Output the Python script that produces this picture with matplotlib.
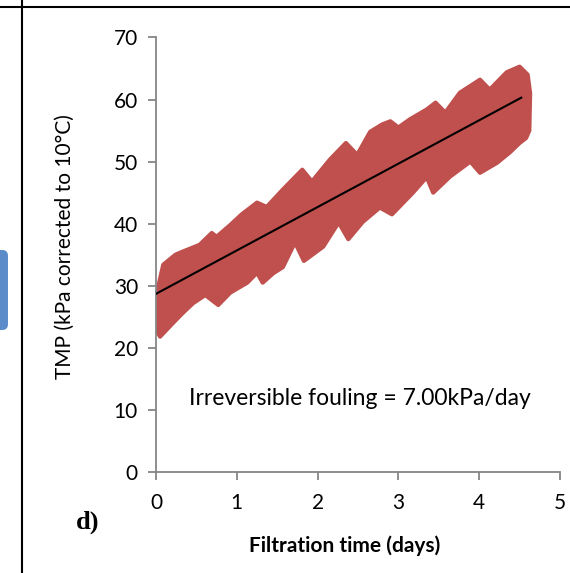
import matplotlib
matplotlib.use("Agg")
import matplotlib.pyplot as plt
from matplotlib.patches import FancyBboxPatch
from matplotlib.lines import Line2D

plt.rcParams["font.family"] = ["Lato", "DejaVu Sans"]

# upper edge of the TMP band (days, kPa)
upper_t = [0.00, 0.03, 0.09, 0.24, 0.33, 0.54, 0.69, 0.75, 0.92, 1.06, 1.25, 1.37,
           1.57, 1.81, 1.93, 2.15, 2.35, 2.49, 2.65, 2.80, 2.90, 3.00, 3.14, 3.35,
           3.46, 3.58, 3.76, 4.01, 4.13, 4.34, 4.50, 4.60, 4.63, 4.62]
upper_p = [24.0, 30.0, 33.4, 35.0, 35.5, 36.6, 38.5, 37.9, 39.8, 41.5, 43.4, 42.7,
           45.5, 48.7, 46.8, 50.3, 53.0, 51.1, 54.8, 56.0, 56.5, 55.5, 56.8, 58.4,
           59.5, 57.9, 61.1, 63.2, 61.6, 64.4, 65.3, 64.0, 61.0, 55.0]
# lower edge of the TMP band (days, kPa)
lower_t = [0.00, 0.05, 0.21, 0.33, 0.46, 0.61, 0.77, 0.92, 1.13, 1.25, 1.32, 1.45,
           1.57, 1.72, 1.83, 2.07, 2.26, 2.38, 2.56, 2.77, 2.92, 3.18, 3.35, 3.43,
           3.64, 3.89, 4.01, 4.22, 4.38, 4.50, 4.58]
lower_p = [23.0, 21.8, 24.0, 25.6, 27.2, 28.5, 26.9, 28.9, 30.5, 32.1, 30.5, 32.0,
           33.0, 37.0, 34.0, 36.3, 40.2, 37.5, 40.3, 42.6, 41.5, 45.0, 47.5, 45.0,
           47.6, 50.0, 48.2, 49.8, 51.5, 53.0, 53.8]

# linear fit
fit_t = [0.0, 4.52]
fit_p = [28.7, 60.3]

band_color = "#C0504D"
axis_gray = "#868686"

fig = plt.figure(figsize=(5.70, 5.73), dpi=100)
ax = fig.add_axes([0.2737, 0.1763, 0.7088, 0.7583])

poly_t = upper_t + lower_t[::-1]
poly_p = upper_p + lower_p[::-1]
ax.fill(poly_t, poly_p, color=band_color, lw=3, ec=band_color, joinstyle="round", zorder=2)
ax.plot(fit_t, fit_p, color="black", lw=1.5, zorder=3)

ax.set_xlim(0, 5)
ax.set_ylim(0, 70)
ax.set_xticks(range(0, 6))
ax.set_yticks(range(0, 71, 10))

for s in ["top", "right"]:
    ax.spines[s].set_visible(False)
for s in ["left", "bottom"]:
    ax.spines[s].set_color(axis_gray)
    ax.spines[s].set_linewidth(1.3)
ax.tick_params(axis="both", direction="out", length=6, width=1.3, color=axis_gray,
               labelsize=15, labelcolor="black")
ax.tick_params(axis="x", pad=9)
ax.tick_params(axis="y", pad=7)

ax.set_xlabel("Filtration time (days)", fontsize=15, fontweight="bold")
ax.xaxis.set_label_coords(0.468, -0.145)
ax.set_ylabel("TMP (kPa corrected to 10°C)", fontsize=15)
ax.yaxis.set_label_coords(-0.2, 0.518)

ax.text(2.52, 11.9, "Irreversible fouling = 7.00kPa/day", fontsize=16.5,
        ha="center", va="center")

fig.text(0.154, 0.089, "d)", fontsize=19, fontweight="bold",
         family="Liberation Serif", ha="center", va="center")

# panel frame lines
fig.add_artist(Line2D([22 / 570, 22 / 570], [0, 1], color="black", lw=1.5))
fig.add_artist(Line2D([0, 1], [1 - 7 / 573, 1 - 7 / 573], color="black", lw=1.5))
# piece of the neighbouring panel
fig.add_artist(FancyBboxPatch((-0.01, 1 - 330 / 573), 0.024, 80 / 573,
                              boxstyle="round,pad=0,rounding_size=0.01",
                              fc="#5B8BC8", ec="none", transform=fig.transFigure))

fig.savefig("out.png", dpi=100)
